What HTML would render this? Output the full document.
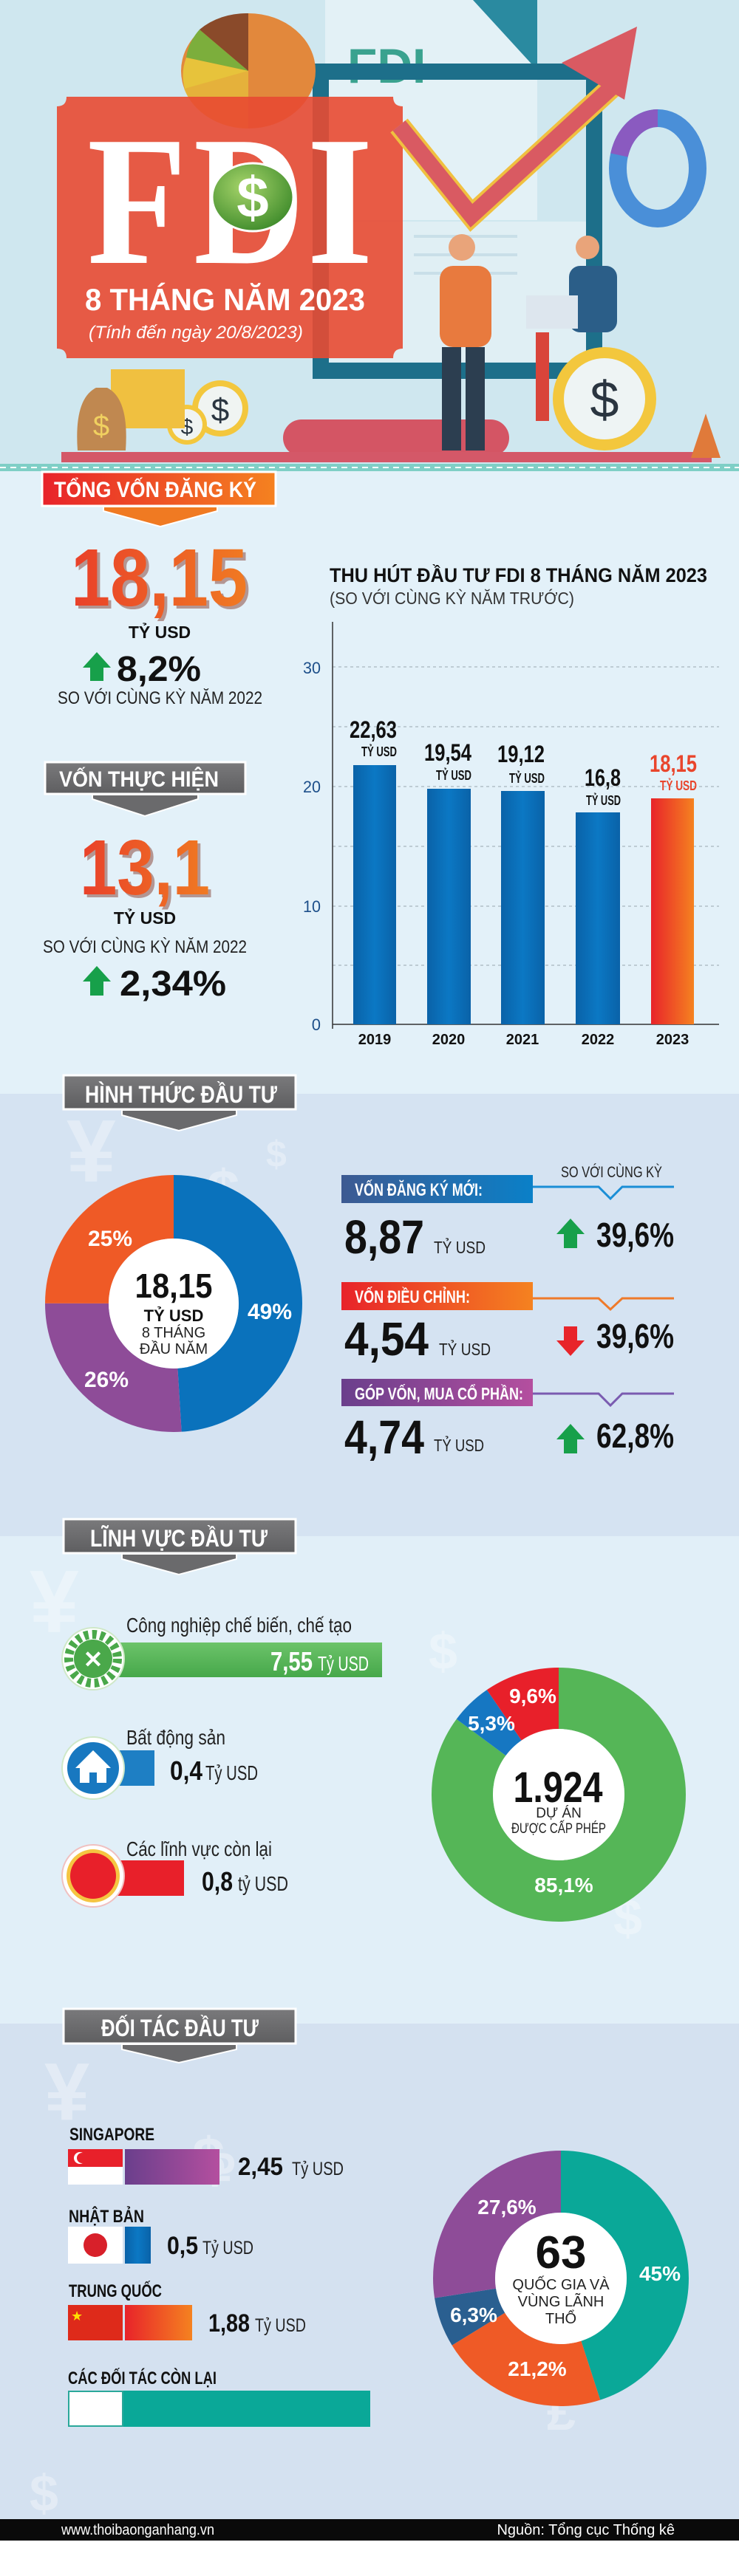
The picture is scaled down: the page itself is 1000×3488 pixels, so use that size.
<!DOCTYPE html>
<html><head><meta charset="utf-8"><style>
html,body{margin:0;padding:0;background:#fff}
svg{display:block}
text{font-family:"Liberation Sans Narrow","Liberation Sans",sans-serif}
.b{font-weight:bold}
</style></head><body>
<svg width="1000" height="3488" viewBox="0 0 1000 3488" xmlns="http://www.w3.org/2000/svg">
<defs>
<linearGradient id="gRO" x1="0" x2="1"><stop offset="0" stop-color="#e8232a"/><stop offset="1" stop-color="#f58220"/></linearGradient>
<linearGradient id="gNum" x1="0" x2="1"><stop offset="0" stop-color="#e9402a"/><stop offset="1" stop-color="#f07a22"/></linearGradient>
<linearGradient id="gGray" x1="0" x2="0" y1="0" y2="1"><stop offset="0" stop-color="#7a7a7c"/><stop offset="1" stop-color="#5e5e60"/></linearGradient>
<linearGradient id="gBlue" x1="0" x2="1"><stop offset="0" stop-color="#3d5a92"/><stop offset="1" stop-color="#0a80c8"/></linearGradient>
<linearGradient id="gPur" x1="0" x2="1"><stop offset="0" stop-color="#6a3f8c"/><stop offset="1" stop-color="#b44f9f"/></linearGradient>
<linearGradient id="gGreen" x1="0" x2="0" y1="0" y2="1"><stop offset="0" stop-color="#6cc36a"/><stop offset="1" stop-color="#46a84a"/></linearGradient>
<linearGradient id="gBar" x1="0" x2="1"><stop offset="0" stop-color="#0a62a8"/><stop offset=".5" stop-color="#0b78c4"/><stop offset="1" stop-color="#0a62a8"/></linearGradient>
<radialGradient id="gDol" cx=".4" cy=".35" r=".7"><stop offset="0" stop-color="#a6d46a"/><stop offset="1" stop-color="#3d8a2a"/></radialGradient>
</defs>

<!-- HEADER -->
<rect x="0" y="0" width="1000" height="630" fill="#cfe7ef"/>
<rect x="440" y="0" width="287" height="298" fill="#e3f1f6"/>
<polygon points="640,0 727,0 727,95" fill="#2a8aa0"/>
<text x="470" y="112" font-size="66" fill="#3aa28f" class="b">FDI</text>
<rect x="434" y="97" width="370" height="405" fill="none" stroke="#1d6f8a" stroke-width="22"/>
<rect x="445" y="300" width="348" height="190" fill="#e0eff4"/>
<g stroke="#c9dfe8" stroke-width="4"><line x1="560" y1="320" x2="700" y2="320"/><line x1="560" y1="345" x2="700" y2="345"/><line x1="560" y1="370" x2="700" y2="370"/></g>
<ellipse cx="336" cy="96" rx="91" ry="78" fill="#e2883c"/>
<path d="M336,96 L252,78 A91,78 0 0,1 270,40 Z" fill="#7cae3c"/>
<path d="M336,96 L270,40 A91,78 0 0,1 336,18 Z" fill="#8a4a2a"/>
<path d="M336,96 L250,120 A91,78 0 0,1 252,78 Z" fill="#e7c33b"/>
<path d="M249,120 L336,96 L336,174 A91,78 0 0,1 249,120Z" fill="#e7c33b" opacity=".7"/>
<ellipse cx="890" cy="228" rx="54" ry="68" fill="none" stroke="#4a8fd8" stroke-width="24"/>
<path d="M890,160 A54,68 0 0,0 838,210" fill="none" stroke="#8a5ac0" stroke-width="24"/>
<rect x="383" y="568" width="306" height="50" rx="25" fill="#d45564"/>
<rect x="83" y="612" width="880" height="14" fill="#d45868"/>
<!-- people -->
<rect x="595" y="360" width="70" height="110" rx="18" fill="#e87a3e"/>
<circle cx="625" cy="335" r="18" fill="#e9a47a"/>
<rect x="598" y="470" width="26" height="140" fill="#2c3e50"/><rect x="630" y="470" width="26" height="140" fill="#2c3e50"/>
<rect x="770" y="360" width="65" height="90" rx="15" fill="#2b5e88"/>
<circle cx="795" cy="335" r="16" fill="#e9a47a"/>
<rect x="712" y="400" width="70" height="45" fill="#dde6ee"/>
<rect x="725" y="450" width="18" height="120" fill="#d9443a"/>
<circle cx="818" cy="540" r="70" fill="#f3c73d"/><circle cx="818" cy="540" r="55" fill="#eef4f4"/>
<text x="818" y="565" font-size="70" text-anchor="middle" fill="#2a3540">$</text>
<circle cx="298" cy="553" r="38" fill="#f3c73d"/><circle cx="298" cy="553" r="30" fill="#f0f4f2"/>
<text x="298" y="570" font-size="44" text-anchor="middle" fill="#2a3540">$</text>
<circle cx="253" cy="575" r="27" fill="#f3c73d"/><circle cx="253" cy="575" r="21" fill="#f0f4f2"/>
<text x="253" y="588" font-size="30" text-anchor="middle" fill="#2a3540">$</text>
<rect x="150" y="500" width="100" height="80" fill="#f0c040"/>
<path d="M105,610 Q100,540 130,525 L145,525 Q175,540 170,610 Z" fill="#c08850"/>
<text x="137" y="590" font-size="40" text-anchor="middle" fill="#f0d060">$</text>
<path d="M935,620 L955,560 L975,620Z" fill="#e07a3a"/>
<!-- red box -->
<path d="M90,131 L532,131 Q532,144 545,144 L545,472 Q532,472 532,485 L90,485 Q90,472 77,472 L77,144 Q90,144 90,131Z" fill="#e84a32" opacity=".9"/>
<!-- trend arrow -->
<polyline points="540,170 638,292 828,118" fill="none" stroke="#f0c040" stroke-width="30" stroke-linejoin="miter"/>
<polyline points="540,170 638,292 828,118" fill="none" stroke="#d95a62" stroke-width="22" stroke-linejoin="miter"/>
<polygon points="862,36 845,135 760,85" fill="#d95a62"/>
<text x="118" y="356" font-family="Liberation Serif" font-size="250" class="b" fill="#fff" textLength="135" lengthAdjust="spacingAndGlyphs" style="font-family:'Liberation Serif',serif">F</text>
<text x="262" y="356" font-size="250" class="b" fill="#fff" textLength="150" lengthAdjust="spacingAndGlyphs" style="font-family:'Liberation Serif',serif">D</text>
<text x="415" y="356" font-size="250" class="b" fill="#fff" textLength="90" lengthAdjust="spacingAndGlyphs" style="font-family:'Liberation Serif',serif">I</text>
<ellipse cx="342" cy="267" rx="55" ry="46" fill="url(#gDol)" stroke="#fff" stroke-width="3"/>
<text x="342" y="294" font-size="78" text-anchor="middle" fill="#fff" class="b">$</text>
<text x="115" y="420" font-size="42" class="b" fill="#fff" textLength="379" lengthAdjust="spacingAndGlyphs">8 THÁNG NĂM 2023</text>
<text x="120" y="458" font-size="24" font-style="italic" fill="#fff" textLength="290" lengthAdjust="spacingAndGlyphs">(Tính đến ngày 20/8/2023)</text>

<!-- teal strip -->
<rect x="0" y="628" width="1000" height="10" fill="#7fcfc6"/>
<line x1="0" y1="633" x2="1000" y2="633" stroke="#fff" stroke-width="2" stroke-dasharray="8 6"/>

<!-- SECTION BACKGROUNDS -->
<rect x="0" y="638" width="1000" height="843" fill="#e3f1f9"/>
<rect x="0" y="1481" width="1000" height="599" fill="#d5e3f2"/>
<rect x="0" y="2080" width="1000" height="660" fill="#e1eff8"/>
<rect x="0" y="2740" width="1000" height="671" fill="#d4e1f0"/>
<g fill="#ffffff" opacity=".35" font-weight="bold">
<text x="90" y="1600" font-size="120">¥</text><text x="280" y="1640" font-size="80">$</text><text x="360" y="1580" font-size="50">$</text>
<text x="40" y="2210" font-size="120">¥</text><text x="580" y="2260" font-size="70">$</text><text x="760" y="3020" font-size="50">$</text>
<text x="60" y="2870" font-size="110">¥</text><text x="260" y="2950" font-size="80">$</text><text x="740" y="3290" font-size="70">£</text>
<text x="830" y="2620" font-size="70">$</text><text x="280" y="2960" font-size="60">₽</text><text x="40" y="3400" font-size="70">$</text>
</g>

<!-- SECTION 1 -->
<rect x="57" y="639" width="316" height="46" fill="url(#gRO)" stroke="#fff" stroke-width="3"/>
<polygon points="140,686 294,686 294,692 217,713 140,692" fill="#f07a22" stroke="#fff" stroke-width="2"/>
<text x="73" y="673" font-size="30" class="b" fill="#fff" textLength="274" lengthAdjust="spacingAndGlyphs">TỔNG VỐN ĐĂNG KÝ</text>
<text x="100" y="824" font-size="110" class="b" fill="#7a2a1a" opacity=".45" textLength="239" lengthAdjust="spacingAndGlyphs">18,15</text>
<text x="96" y="820" font-size="110" class="b" fill="url(#gNum)" textLength="239" lengthAdjust="spacingAndGlyphs">18,15</text>
<text x="216" y="864" font-size="23" class="b" text-anchor="middle" fill="#111">TỶ USD</text>
<polygon points="131,883 150,904 140,904 140,922 122,922 122,904 112,904" fill="#17a04a"/>
<text x="158" y="922" font-size="48" class="b" fill="#111" textLength="114" lengthAdjust="spacingAndGlyphs">8,2%</text>
<text x="78" y="953" font-size="24" fill="#222" textLength="277" lengthAdjust="spacingAndGlyphs">SO VỚI CÙNG KỲ NĂM 2022</text>

<rect x="61" y="1032" width="271" height="43" fill="url(#gGray)" stroke="#fff" stroke-width="3"/>
<polygon points="125,1076 268,1076 268,1082 196,1105 125,1082" fill="#6a6a6c" stroke="#fff" stroke-width="2"/>
<text x="80" y="1065" font-size="30" class="b" fill="#fff" textLength="216" lengthAdjust="spacingAndGlyphs">VỐN THỰC HIỆN</text>
<text x="112" y="1215" font-size="106" class="b" fill="#7a2a1a" opacity=".45" textLength="176" lengthAdjust="spacingAndGlyphs">13,1</text>
<text x="108" y="1211" font-size="106" class="b" fill="url(#gNum)" textLength="176" lengthAdjust="spacingAndGlyphs">13,1</text>
<text x="196" y="1251" font-size="23" class="b" text-anchor="middle" fill="#111">TỶ USD</text>
<text x="58" y="1290" font-size="24" fill="#222" textLength="276" lengthAdjust="spacingAndGlyphs">SO VỚI CÙNG KỲ NĂM 2022</text>
<polygon points="131,1308 150,1329 140,1329 140,1348 122,1348 122,1329 112,1329" fill="#17a04a"/>
<text x="162" y="1348" font-size="48" class="b" fill="#111" textLength="144" lengthAdjust="spacingAndGlyphs">2,34%</text>

<!-- chart -->
<text x="446" y="788" font-size="27" class="b" fill="#111" textLength="511" lengthAdjust="spacingAndGlyphs">THU HÚT ĐẦU TƯ FDI 8 THÁNG NĂM 2023</text>
<text x="446" y="818" font-size="23" fill="#333" textLength="331" lengthAdjust="spacingAndGlyphs">(SO VỚI CÙNG KỲ NĂM TRƯỚC)</text>
<g stroke="#9aa6b0" stroke-width="1" stroke-dasharray="4 4">
<line x1="450" y1="903" x2="973" y2="903"/><line x1="450" y1="984" x2="973" y2="984"/><line x1="450" y1="1065" x2="973" y2="1065"/><line x1="450" y1="1146" x2="973" y2="1146"/><line x1="450" y1="1227" x2="973" y2="1227"/><line x1="450" y1="1307" x2="973" y2="1307"/>
</g>
<line x1="450" y1="842" x2="450" y2="1393" stroke="#333" stroke-width="1.5"/>
<line x1="450" y1="1387" x2="973" y2="1387" stroke="#333" stroke-width="1.5"/>
<g font-size="22" fill="#1d4f8a" text-anchor="end">
<text x="434" y="912" textLength="24" lengthAdjust="spacingAndGlyphs">30</text><text x="434" y="1073" textLength="24" lengthAdjust="spacingAndGlyphs">20</text><text x="434" y="1235" textLength="24" lengthAdjust="spacingAndGlyphs">10</text><text x="434" y="1395">0</text>
</g>
<rect x="478" y="1036" width="58" height="351" fill="url(#gBar)"/>
<rect x="578" y="1068" width="59" height="319" fill="url(#gBar)"/>
<rect x="678" y="1071" width="59" height="316" fill="url(#gBar)"/>
<rect x="779" y="1100" width="60" height="287" fill="url(#gBar)"/>
<rect x="881" y="1081" width="58" height="306" fill="url(#gRO)"/>
<g font-size="20" class="b" fill="#111" text-anchor="middle">
<text x="507" y="1414">2019</text><text x="607" y="1414">2020</text><text x="707" y="1414">2021</text><text x="809" y="1414">2022</text><text x="910" y="1414">2023</text>
</g>
<g class="b" text-anchor="end" fill="#111">
<text x="537" y="999" font-size="32" textLength="64" lengthAdjust="spacingAndGlyphs">22,63</text><text x="537" y="1024" font-size="18" textLength="48" lengthAdjust="spacingAndGlyphs">TỶ USD</text>
<text x="638" y="1030" font-size="32" textLength="64" lengthAdjust="spacingAndGlyphs">19,54</text><text x="638" y="1056" font-size="18" textLength="48" lengthAdjust="spacingAndGlyphs">TỶ USD</text>
<text x="737" y="1032" font-size="32" textLength="64" lengthAdjust="spacingAndGlyphs">19,12</text><text x="737" y="1060" font-size="18" textLength="48" lengthAdjust="spacingAndGlyphs">TỶ USD</text>
<text x="840" y="1064" font-size="32" textLength="49" lengthAdjust="spacingAndGlyphs">16,8</text><text x="840" y="1090" font-size="18" textLength="47" lengthAdjust="spacingAndGlyphs">TỶ USD</text>
<text x="943" y="1045" font-size="32" fill="#e9452c" textLength="64" lengthAdjust="spacingAndGlyphs">18,15</text><text x="943" y="1070" font-size="18" fill="#e9452c" textLength="50" lengthAdjust="spacingAndGlyphs">TỶ USD</text>
</g>

<!-- SECTION 2 -->
<rect x="86" y="1456" width="314" height="46" fill="url(#gGray)" stroke="#fff" stroke-width="3"/>
<polygon points="165,1503 320,1503 320,1510 242,1531 165,1510" fill="#6a6a6c" stroke="#fff" stroke-width="2"/>
<text x="115" y="1493" font-size="32" class="b" fill="#fff" textLength="260" lengthAdjust="spacingAndGlyphs">HÌNH THỨC ĐẦU TƯ</text>
<g transform="rotate(-90 235 1765)" fill="none" stroke-width="86">
<circle cx="235" cy="1765" r="131" stroke="#0a72bc" stroke-dasharray="403.3 823.1" stroke-dashoffset="0"/>
<circle cx="235" cy="1765" r="131" stroke="#8e4c98" stroke-dasharray="214 823.1" stroke-dashoffset="-403.3"/>
<circle cx="235" cy="1765" r="131" stroke="#ef5a26" stroke-dasharray="205.8 823.1" stroke-dashoffset="-617.3"/>
</g>
<circle cx="235" cy="1765" r="88" fill="#fff"/>
<g font-size="30" class="b" fill="#fff" text-anchor="middle">
<text x="365" y="1786">49%</text><text x="149" y="1687">25%</text><text x="144" y="1878">26%</text>
</g>
<text x="235" y="1757" font-size="46" class="b" text-anchor="middle" fill="#111" textLength="105" lengthAdjust="spacingAndGlyphs">18,15</text>
<text x="235" y="1789" font-size="22" class="b" text-anchor="middle" fill="#111">TỶ USD</text>
<text x="235" y="1811" font-size="20" text-anchor="middle" fill="#222">8 THÁNG</text>
<text x="235" y="1833" font-size="20" text-anchor="middle" fill="#222">ĐẦU NĂM</text>

<text x="759" y="1594" font-size="21" fill="#222" textLength="137" lengthAdjust="spacingAndGlyphs">SO VỚI CÙNG KỲ</text>
<rect x="462" y="1591" width="259" height="38" fill="url(#gBlue)"/>
<text x="480" y="1619" font-size="24" class="b" fill="#fff" textLength="173" lengthAdjust="spacingAndGlyphs">VỐN ĐĂNG KÝ MỚI:</text>
<polyline points="721,1607 810,1607 826,1623 842,1607 912,1607" fill="none" stroke="#1a8ed6" stroke-width="3"/>
<text x="466" y="1697" font-size="64" class="b" fill="#111" textLength="108" lengthAdjust="spacingAndGlyphs">8,87</text>
<text x="587" y="1697" font-size="23" fill="#222" textLength="70" lengthAdjust="spacingAndGlyphs">TỶ USD</text>
<polygon points="772,1650 791,1671 781,1671 781,1690 763,1690 763,1671 753,1671" fill="#17a04a"/>
<text x="807" y="1688" font-size="46" class="b" fill="#111" textLength="105" lengthAdjust="spacingAndGlyphs">39,6%</text>

<rect x="462" y="1736" width="259" height="38" fill="url(#gRO)"/>
<text x="480" y="1764" font-size="24" class="b" fill="#fff" textLength="156" lengthAdjust="spacingAndGlyphs">VỐN ĐIỀU CHỈNH:</text>
<polyline points="721,1758 810,1758 826,1773 842,1758 912,1758" fill="none" stroke="#ef7a2a" stroke-width="3"/>
<text x="466" y="1835" font-size="64" class="b" fill="#111" textLength="114" lengthAdjust="spacingAndGlyphs">4,54</text>
<text x="594" y="1835" font-size="23" fill="#222" textLength="70" lengthAdjust="spacingAndGlyphs">TỶ USD</text>
<polygon points="772,1836 791,1815 781,1815 781,1796 763,1796 763,1815 753,1815" fill="#e8242a"/>
<text x="807" y="1825" font-size="46" class="b" fill="#111" textLength="105" lengthAdjust="spacingAndGlyphs">39,6%</text>

<rect x="462" y="1867" width="259" height="37" fill="url(#gPur)"/>
<text x="480" y="1895" font-size="23" class="b" fill="#fff" textLength="228" lengthAdjust="spacingAndGlyphs">GÓP VỐN, MUA CỔ PHẦN:</text>
<polyline points="721,1887 810,1887 826,1903 842,1887 912,1887" fill="none" stroke="#7a5bb0" stroke-width="3"/>
<text x="466" y="1968" font-size="64" class="b" fill="#111" textLength="108" lengthAdjust="spacingAndGlyphs">4,74</text>
<text x="587" y="1965" font-size="23" fill="#222" textLength="68" lengthAdjust="spacingAndGlyphs">TỶ USD</text>
<polygon points="772,1928 791,1949 781,1949 781,1968 763,1968 763,1949 753,1949" fill="#17a04a"/>
<text x="807" y="1960" font-size="46" class="b" fill="#111" textLength="105" lengthAdjust="spacingAndGlyphs">62,8%</text>

<!-- SECTION 3 -->
<rect x="86" y="2057" width="314" height="46" fill="url(#gGray)" stroke="#fff" stroke-width="3"/>
<polygon points="165,2104 320,2104 320,2111 242,2132 165,2111" fill="#6a6a6c" stroke="#fff" stroke-width="2"/>
<text x="122" y="2094" font-size="32" class="b" fill="#fff" textLength="240" lengthAdjust="spacingAndGlyphs">LĨNH VỰC ĐẦU TƯ</text>

<text x="171" y="2210" font-size="28" fill="#222" textLength="305" lengthAdjust="spacingAndGlyphs">Công nghiệp chế biến, chế tạo</text>
<rect x="159" y="2224" width="358" height="47" fill="url(#gGreen)"/>
<text x="366" y="2262" font-size="36" class="b" fill="#fff" textLength="57" lengthAdjust="spacingAndGlyphs">7,55</text>
<text x="430" y="2262" font-size="28" fill="#fff" textLength="69" lengthAdjust="spacingAndGlyphs">Tỷ USD</text>
<circle cx="126" cy="2246" r="42" fill="#fff" stroke="#cfe8c8" stroke-width="2"/>
<circle cx="126" cy="2246" r="33" fill="none" stroke="#4aa84a" stroke-width="12" stroke-dasharray="6 5"/>
<circle cx="126" cy="2246" r="26" fill="#4aa84a"/>
<text x="126" y="2258" font-size="32" class="b" fill="#fff" text-anchor="middle">✕</text>

<text x="171" y="2362" font-size="28" fill="#222" textLength="134" lengthAdjust="spacingAndGlyphs">Bất động sản</text>
<rect x="159" y="2370" width="50" height="48" fill="#1e7fc4"/>
<circle cx="126" cy="2394" r="42" fill="#fff" stroke="#cfe8c8" stroke-width="2"/>
<circle cx="126" cy="2394" r="35" fill="#1878c0"/>
<polygon points="126,2370 150,2394 144,2394 144,2414 108,2414 108,2394 102,2394" fill="#fff"/>
<rect x="121" y="2400" width="10" height="14" fill="#1878c0"/>
<text x="230" y="2410" font-size="36" class="b" fill="#111" textLength="44" lengthAdjust="spacingAndGlyphs">0,4</text>
<text x="278" y="2410" font-size="28" fill="#222" textLength="71" lengthAdjust="spacingAndGlyphs">Tỷ USD</text>

<text x="171" y="2513" font-size="28" fill="#222" textLength="197" lengthAdjust="spacingAndGlyphs">Các lĩnh vực còn lại</text>
<rect x="159" y="2519" width="90" height="48" fill="#e8202a"/>
<circle cx="126" cy="2540" r="42" fill="#fff" stroke="#f0c0c0" stroke-width="2"/>
<circle cx="126" cy="2540" r="36" fill="#f5c542"/>
<circle cx="126" cy="2540" r="31" fill="#e8202a"/>
<text x="273" y="2560" font-size="36" class="b" fill="#111" textLength="42" lengthAdjust="spacingAndGlyphs">0,8</text>
<text x="322" y="2560" font-size="28" fill="#222" textLength="68" lengthAdjust="spacingAndGlyphs">tỷ USD</text>

<g transform="rotate(-90 756 2430)" fill="none" stroke-width="83">
<circle cx="756" cy="2430" r="130.5" stroke="#55b657" stroke-dasharray="697.8 820" stroke-dashoffset="0"/>
<circle cx="756" cy="2430" r="130.5" stroke="#1677c2" stroke-dasharray="43.5 820" stroke-dashoffset="-697.8"/>
<circle cx="756" cy="2430" r="130.5" stroke="#e8202a" stroke-dasharray="78.7 820" stroke-dashoffset="-741.3"/>
</g>
<circle cx="756" cy="2430" r="89" fill="#fff"/>
<g font-size="28" class="b" fill="#fff" text-anchor="middle">
<text x="721" y="2306">9,6%</text><text x="665" y="2343">5,3%</text><text x="763" y="2562">85,1%</text>
</g>
<text x="755" y="2440" font-size="58" class="b" text-anchor="middle" fill="#111" textLength="121" lengthAdjust="spacingAndGlyphs">1.924</text>
<text x="756" y="2461" font-size="19" text-anchor="middle" fill="#222">DỰ ÁN</text>
<text x="756" y="2482" font-size="19" text-anchor="middle" fill="#222" textLength="128" lengthAdjust="spacingAndGlyphs">ĐƯỢC CẤP PHÉP</text>

<!-- SECTION 4 -->
<rect x="86" y="2720" width="314" height="47" fill="url(#gGray)" stroke="#fff" stroke-width="3"/>
<polygon points="165,2768 320,2768 320,2775 242,2793 165,2775" fill="#6a6a6c" stroke="#fff" stroke-width="2"/>
<text x="137" y="2757" font-size="32" class="b" fill="#fff" textLength="213" lengthAdjust="spacingAndGlyphs">ĐỐI TÁC ĐẦU TƯ</text>

<text x="94" y="2898" font-size="24" class="b" fill="#111" textLength="115" lengthAdjust="spacingAndGlyphs">SINGAPORE</text>
<rect x="92" y="2910" width="74" height="24" fill="#e8202a"/><rect x="92" y="2934" width="74" height="24" fill="#fff"/>
<circle cx="108" cy="2922" r="8" fill="#fff"/><circle cx="111" cy="2922" r="7" fill="#e8202a"/>
<rect x="169" y="2910" width="128" height="48" fill="url(#gPur)"/>
<text x="322" y="2945" font-size="34" class="b" fill="#111" textLength="61" lengthAdjust="spacingAndGlyphs">2,45</text>
<text x="395" y="2945" font-size="25" fill="#222" textLength="70" lengthAdjust="spacingAndGlyphs">Tỷ USD</text>

<text x="93" y="3009" font-size="24" class="b" fill="#111" textLength="102" lengthAdjust="spacingAndGlyphs">NHẬT BẢN</text>
<rect x="92" y="3015" width="74" height="50" fill="#fff"/>
<circle cx="129" cy="3040" r="16" fill="#d8202a"/>
<rect x="169" y="3015" width="35" height="50" fill="url(#gBar)"/>
<text x="226" y="3052" font-size="34" class="b" fill="#111" textLength="42" lengthAdjust="spacingAndGlyphs">0,5</text>
<text x="274" y="3052" font-size="25" fill="#222" textLength="69" lengthAdjust="spacingAndGlyphs">Tỷ USD</text>

<text x="93" y="3110" font-size="24" class="b" fill="#111" textLength="126" lengthAdjust="spacingAndGlyphs">TRUNG QUỐC</text>
<rect x="92" y="3121" width="74" height="48" fill="#de2a1a"/>
<text x="96" y="3142" font-size="18" fill="#ffde00">★</text>
<rect x="169" y="3121" width="91" height="48" fill="url(#gRO)"/>
<text x="282" y="3157" font-size="34" class="b" fill="#111" textLength="56" lengthAdjust="spacingAndGlyphs">1,88</text>
<text x="345" y="3157" font-size="25" fill="#222" textLength="69" lengthAdjust="spacingAndGlyphs">Tỷ USD</text>

<text x="92" y="3228" font-size="24" class="b" fill="#111" textLength="201" lengthAdjust="spacingAndGlyphs">CÁC ĐỐI TÁC CÒN LẠI</text>
<rect x="93" y="3238" width="73" height="47" fill="#fff" stroke="#2aa89a" stroke-width="2"/>
<rect x="167" y="3237" width="334" height="49" fill="#0aa898"/>

<g transform="rotate(-90 759 3085)" fill="none" stroke-width="84">
<circle cx="759" cy="3085" r="131" stroke="#0aa898" stroke-dasharray="370.4 823.1" stroke-dashoffset="0"/>
<circle cx="759" cy="3085" r="131" stroke="#ef5a26" stroke-dasharray="174.5 823.1" stroke-dashoffset="-370.4"/>
<circle cx="759" cy="3085" r="131" stroke="#2a5f90" stroke-dasharray="51.9 823.1" stroke-dashoffset="-544.9"/>
<circle cx="759" cy="3085" r="131" stroke="#8e4c98" stroke-dasharray="227.2 823.1" stroke-dashoffset="-596.8"/>
</g>
<circle cx="759" cy="3085" r="89" fill="#fff"/>
<g font-size="28" class="b" fill="#fff" text-anchor="middle">
<text x="893" y="3088">45%</text><text x="727" y="3217">21,2%</text><text x="641" y="3144">6,3%</text><text x="686" y="2998">27,6%</text>
</g>
<text x="759" y="3071" font-size="62" class="b" text-anchor="middle" fill="#111">63</text>
<text x="759" y="3100" font-size="20" text-anchor="middle" fill="#222">QUỐC GIA VÀ</text>
<text x="759" y="3123" font-size="20" text-anchor="middle" fill="#222">VÙNG LÃNH</text>
<text x="759" y="3146" font-size="20" text-anchor="middle" fill="#222">THỔ</text>

<!-- FOOTER -->
<rect x="0" y="3411" width="1000" height="29" fill="#0a0a0a"/>
<text x="83" y="3432" font-size="20" fill="#fff" textLength="207" lengthAdjust="spacingAndGlyphs">www.thoibaonganhang.vn</text>
<text x="913" y="3432" font-size="20" fill="#fff" text-anchor="end">Nguồn: Tổng cục Thống kê</text>
</svg>
</body></html>
